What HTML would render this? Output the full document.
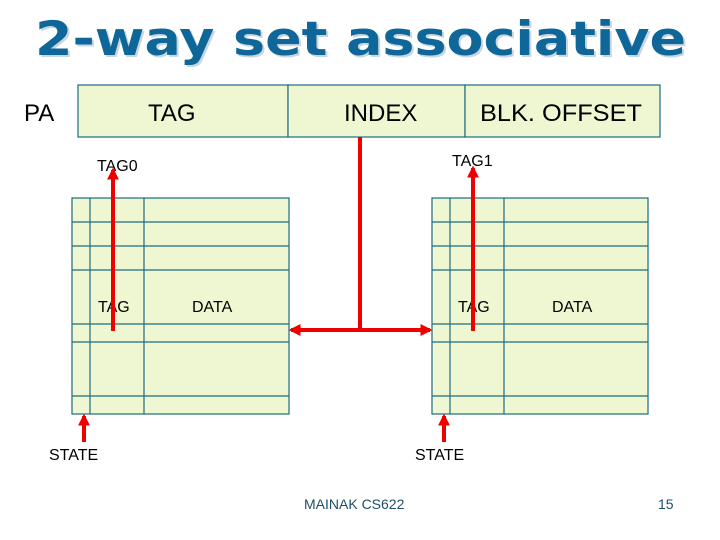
<!DOCTYPE html>
<html><head><style>body{margin:0;background:#fff}svg{display:block}</style></head><body>
<svg width="720" height="540" xmlns="http://www.w3.org/2000/svg" font-family="Liberation Sans, sans-serif">
<defs><marker id="a" viewBox="0 0 10 10" refX="8" refY="5" markerWidth="3" markerHeight="3" orient="auto-start-reverse"><path d="M0,0L10,5L0,10z" fill="#e00"/></marker></defs>
<text x="37" y="57" font-family="DejaVu Sans, sans-serif" font-weight="bold" font-size="47" fill="#c8d6e0" textLength="651" lengthAdjust="spacingAndGlyphs">2-way set associative</text>
<text x="35" y="55" font-family="DejaVu Sans, sans-serif" font-weight="bold" font-size="47" fill="#0e6699" textLength="651" lengthAdjust="spacingAndGlyphs">2-way set associative</text>
<g fill="#eef7d2" stroke="#1c6c80" stroke-width="1.2">
<rect x="78" y="85" width="210" height="52"/><rect x="288" y="85" width="177" height="52"/><rect x="465" y="85" width="195" height="52"/>
<rect x="72" y="198" width="217" height="216"/><rect x="432" y="198" width="216" height="216"/>
</g>
<g stroke="#1c6c80" stroke-width="1.2">
<path d="M90,198V414M144,198V414M72,222H289M72,246H289M72,270H289M72,324H289M72,342H289M72,396H289"/>
<path d="M450,198V414M504,198V414M432,222H648M432,246H648M432,270H648M432,324H648M432,342H648M432,396H648"/>
</g>
<g font-size="24" fill="#000"><text x="24" y="121">PA</text><text x="148" y="121">TAG</text><text x="344" y="121">INDEX</text><text x="480" y="121" textLength="162" lengthAdjust="spacingAndGlyphs">BLK. OFFSET</text></g>
<g font-size="16" fill="#000"><text x="97" y="171">TAG0</text><text x="452" y="166">TAG1</text>
<text x="98" y="312">TAG</text><text x="192" y="312">DATA</text><text x="458" y="312">TAG</text><text x="552" y="312">DATA</text>
<text x="49" y="460">STATE</text><text x="415" y="460">STATE</text></g>
<g font-size="14" fill="#1e4f66"><text x="304" y="509">MAINAK  CS622</text><text x="658" y="509">15</text></g>
<g stroke="#e00" stroke-width="4" fill="none">
<path d="M113,331V170" marker-end="url(#a)"/>
<path d="M473,331V168" marker-end="url(#a)"/>
<path d="M360,137V330"/>
<path d="M291,330H430" marker-start="url(#a)" marker-end="url(#a)"/>
<path d="M84,442V416" marker-end="url(#a)"/>
<path d="M444,442V416" marker-end="url(#a)"/>
</g>
</svg>
</body></html>
